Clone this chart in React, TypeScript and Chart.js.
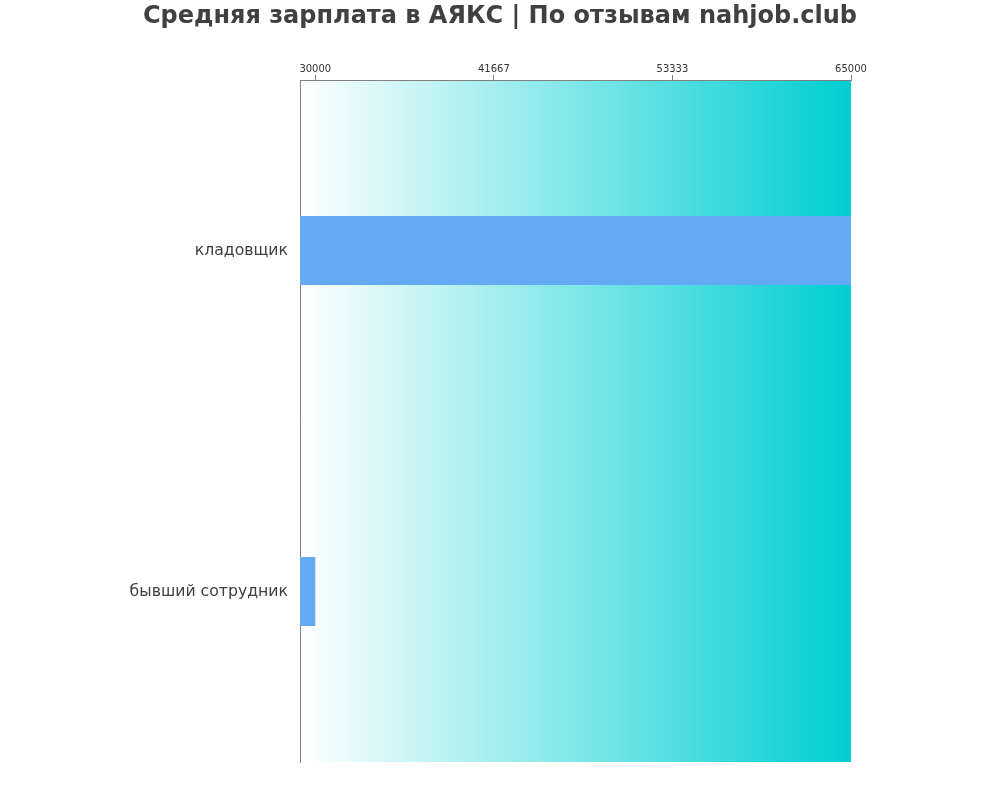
import React, { useEffect, useRef } from 'react';
import Chart from 'chart.js/auto';
import type { Chart as ChartJS, Plugin } from 'chart.js';

const categories = ['кладовщик', 'бывший сотрудник'];
const salaries = [65000, 30000];
const tickValues = [30000, 41667, 53333, 65000];
const titleText = 'Средняя зарплата в АЯКС | По отзывам nahjob.club';

const FONT = '"DejaVu Sans", Verdana, sans-serif';

// paints the white -> turquoise band behind the bars
const gradientBackground: Plugin<'bar'> = {
  id: 'gradientBackground',
  beforeDraw(chart) {
    const { ctx, chartArea } = chart;
    if (!chartArea) return;
    const g = ctx.createLinearGradient(chartArea.left, 0, chartArea.right, 0);
    g.addColorStop(0, '#ffffff');
    g.addColorStop(1, '#00ced1');
    ctx.save();
    ctx.fillStyle = g;
    ctx.fillRect(chartArea.left, chartArea.top, chartArea.right - chartArea.left, chartArea.bottom - chartArea.top);
    ctx.restore();
  },
};

// title centred on the whole canvas, not just the padded layout box
const pageTitle: Plugin<'bar'> = {
  id: 'pageTitle',
  afterDraw(chart) {
    const { ctx, width } = chart;
    ctx.save();
    ctx.fillStyle = '#404040';
    ctx.font = `bold 24px ${FONT}`;
    ctx.textAlign = 'center';
    ctx.textBaseline = 'middle';
    ctx.fillText(titleText, width / 2, 17);
    ctx.restore();
  },
};

const App: React.FC = () => {
  const canvasRef = useRef<HTMLCanvasElement>(null);
  const chartRef = useRef<ChartJS | null>(null);

  useEffect(() => {
    if (!canvasRef.current) return;
    const ctx = canvasRef.current.getContext('2d');
    if (!ctx) return;

    chartRef.current = new Chart(ctx, {
      type: 'bar',
      data: {
        labels: categories,
        datasets: [{
          label: 'Средняя зарплата',
          data: salaries,
          backgroundColor: '#63a9f4',
          borderWidth: 0,
          barPercentage: 0.203,
          categoryPercentage: 1,
        }],
      },
      plugins: [gradientBackground, pageTitle],
      options: {
        indexAxis: 'y',
        responsive: false,
        animation: false,
        layout: { padding: { left: 0, right: 149, top: 0, bottom: 38 } },
        plugins: {
          legend: { display: false },
          tooltip: { enabled: false },
          title: { display: false },
        },
        scales: {
          x: {
            position: 'top',
            min: 29000,
            max: 65000,
            afterBuildTicks: (scale) => {
              scale.ticks = tickValues.map(v => ({ value: v }));
            },
            afterFit: (scale) => {
              scale.height = 80;
            },
            grid: {
              drawOnChartArea: false,
              drawTicks: true,
              tickLength: 5,
              color: '#808080',
            },
            border: { display: true, color: '#808080' },
            ticks: {
              color: '#333333',
              font: { family: FONT, size: 10 },
              padding: 0,
              maxRotation: 0,
              autoSkip: false,
              callback: (v) => String(v),
            },
          },
          y: {
            afterFit: (scale) => {
              scale.width = 300;
            },
            grid: { display: false, drawTicks: false },
            border: { display: true, color: '#808080' },
            ticks: {
              color: '#404040',
              font: { family: FONT, size: 15.7 },
              padding: 12,
            },
          },
        },
      },
    });

    return () => {
      if (chartRef.current) {
        chartRef.current.destroy();
        chartRef.current = null;
      }
    };
  }, []);

  return (
    <div style={{ position: 'fixed', left: 0, top: 0, width: 1000, height: 800, background: '#fff' }}>
      <canvas ref={canvasRef} width={1000} height={800} style={{ width: 1000, height: 800 }} />
    </div>
  );
};

export default App;
